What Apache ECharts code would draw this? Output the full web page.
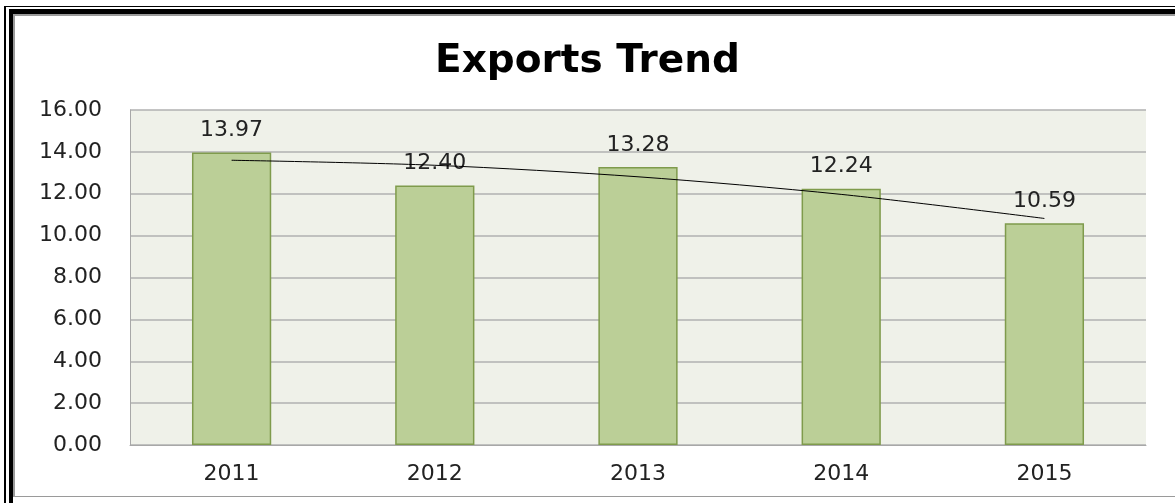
<!DOCTYPE html>
<html>
<head>
<meta charset="utf-8">
<script src="https://cdn.jsdelivr.net/npm/echarts@6/dist/echarts.min.js"></script>
<style>
  html, body { margin: 0; padding: 0; background: #fff; }
  #wrap { position: relative; width: 1175px; height: 503px; overflow: hidden; }
  #chart { position: absolute; left: 0; top: 0; width: 1175px; height: 503px; }
  /* double frame around the picture */
  .frame-outer { position: absolute; left: 4px; top: 6px; width: 1200px; height: 520px;
    border-left: 2px solid #000; border-top: 1px solid #000; }
  .frame-inner { position: absolute; left: 9px; top: 9px; width: 1200px; height: 489px;
    border-left: 4px solid #000; border-top: 5px solid #000; border-bottom: 6px solid #000; }
  .frame-gray { position: absolute; left: 13px; top: 14px; width: 1200px; height: 480px;
    border-left: 2px solid #9a9a9a; border-top: 2px solid #9a9a9a; border-bottom: 1px solid #9a9a9a; }
</style>
</head>
<body>
<div id="wrap">
  <div id="chart"></div>
  <div class="frame-outer"></div>
  <div class="frame-inner"></div>
  <div class="frame-gray"></div>
</div>
<script>
// data
const years = ['2011', '2012', '2013', '2014', '2015'];
const exportsValues = [13.97, 12.40, 13.28, 12.24, 10.59];
// polynomial trend line at each year
const trendValues = [13.60, 13.36, 12.81, 11.97, 10.82];

const font = 'DejaVu Sans';
const textColor = '#222';
const chart = echarts.init(document.getElementById('chart'));

chart.setOption({
  animation: false,
  title: {
    text: 'Exports Trend',
    left: 'center',
    top: 37,
    textStyle: { fontFamily: font, fontSize: 39, fontWeight: 'bold', color: '#000' },
  },
  grid: {
    left: 130, right: 29, top: 110, bottom: 58,
    show: true, backgroundColor: '#eff1e9', borderWidth: 0,
  },
  xAxis: {
    type: 'category',
    data: years,
    axisLine: { lineStyle: { color: '#a8a8a8', width: 1 } },
    axisTick: { show: false },
    axisLabel: { fontFamily: font, fontSize: 22, color: textColor, margin: 18 },
  },
  yAxis: {
    type: 'value',
    min: 0, max: 16, interval: 2,
    axisLine: { show: true, lineStyle: { color: '#a8a8a8', width: 1 } },
    axisTick: { show: false },
    splitLine: { lineStyle: { color: '#b0b0b0', width: 1.5 } },
    axisLabel: {
      fontFamily: font, fontSize: 22, color: textColor, margin: 28,
      formatter: (v) => v.toFixed(2),
    },
  },
  series: [
    {
      type: 'bar',
      data: exportsValues,
      barWidth: '39%',
      itemStyle: { color: '#bbcf97', borderColor: '#7f9b4c', borderWidth: 1.5 },
      label: {
        show: true,
        position: 'top',
        distance: 11,
        fontFamily: font, fontSize: 22, color: textColor,
        formatter: (p) => p.value.toFixed(2),
      },
      z: 2,
    },
    {
      type: 'line',
      data: trendValues,
      smooth: 0.3,
      showSymbol: false,
      lineStyle: { color: '#000', width: 1 },
      z: 3,
    },
  ],
});
</script>
</body>
</html>
